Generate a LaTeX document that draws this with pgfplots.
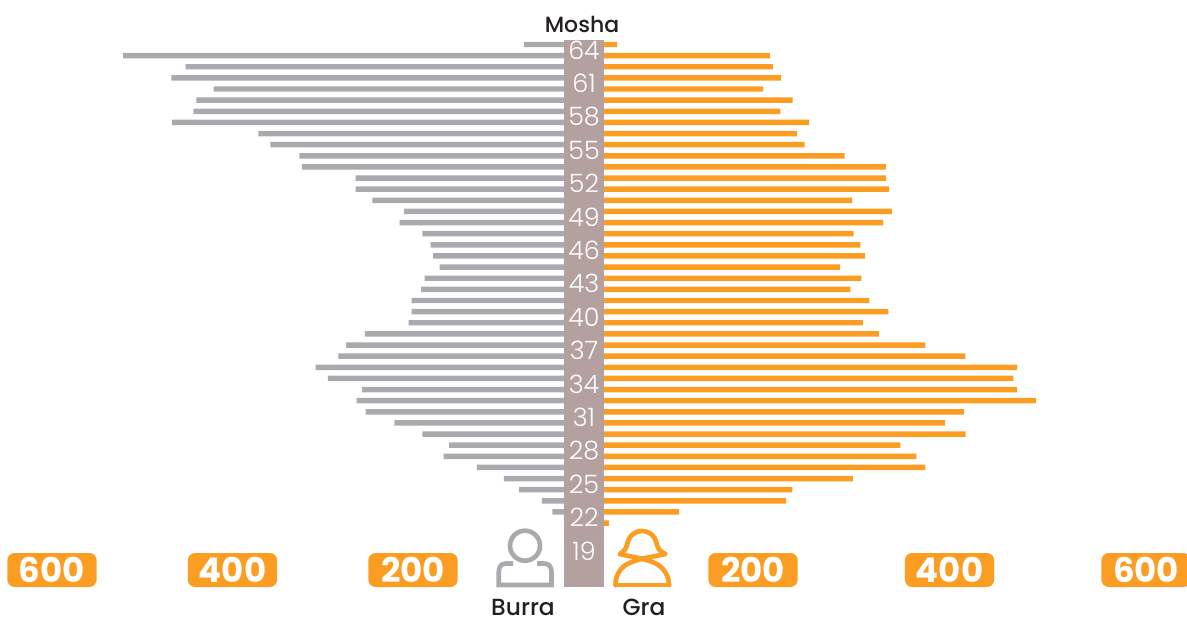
\documentclass[border=0pt]{standalone}
\usepackage{pgfplots}
\usepackage{pgfplotstable}
\usepackage{fontspec}
\pgfplotsset{compat=1.18}
\setmainfont{Poppins}
\newfontfamily\poplight{Poppins Light}
\newfontfamily\popmed{Poppins Medium}
\definecolor{barorange}{HTML}{FC9D23}
\definecolor{bargray}{HTML}{A9AAAD}
\definecolor{band}{HTML}{B3A09F}
\definecolor{ink}{HTML}{231F20}
\pgfplotstableread{
age burra
65 77.0
64 521.3
63 451.9
62 467.8
61 420.8
60 440.1
59 443.4
58 467.0
57 371.4
56 358.1
55 326.0
54 323.0
53 263.5
52 263.5
51 245.1
50 210.0
49 214.7
48 189.7
47 180.4
46 177.8
45 170.4
44 187.0
43 191.1
42 201.4
41 201.4
40 204.8
39 253.2
38 274.2
37 282.8
36 307.8
35 294.2
34 256.5
33 262.4
32 252.4
31 220.7
30 189.7
29 160.1
28 166.0
27 129.1
26 99.2
25 82.5
24 57.1
23 45.7
}\burratable
\pgfplotstableread{
age gra
65 61.6
64 217.3
63 220.1
62 228.5
61 210.2
60 240.4
59 227.8
58 257.0
57 244.8
56 252.6
55 293.3
54 335.1
53 335.4
52 338.4
51 300.8
50 341.2
49 332.3
48 302.5
47 309.2
46 314.0
45 288.5
44 310.2
43 299.0
42 318.4
41 337.7
40 311.7
39 328.2
38 375.4
37 416.1
36 468.7
35 464.9
34 468.7
33 488.0
32 414.8
31 395.4
30 416.5
29 349.9
28 366.2
27 375.4
26 301.5
25 240.0
24 233.6
23 124.7
22 53.4
}\gratable
\pgfplotsset{
  pyr/.style={
    scale only axis,
    height=410.25pt,
    ymin=16.26, ymax=65.404,
    xbar, bar width=4.1pt,
    axis line style={draw=none},
    major tick length=0pt,
    xtick={200,400,600},
    xticklabels={200,400,600},
    xticklabel style={fill=barorange, rounded corners=5.5pt, text=white,
      minimum width=67pt, minimum height=25.5pt, inner sep=0pt, anchor=center,
      font=\fontsize{25.5}{25.5}\selectfont\bfseries, yshift=12.75pt},
  }
}
\begin{document}
\begin{tikzpicture}
\clip (0pt,0pt) rectangle (890.25pt,462.75pt);
\begin{scope}[x=0.75pt,y=-0.75pt,yshift=462.75pt]
\fill[band] (564,40) rectangle (604,587);
\end{scope}
\begin{axis}[pyr, at={(423pt,22.5pt)}, anchor=south east, width=423pt,
  x dir=reverse, xmin=32.7, xmax=657.6,
  axis y line*=right,
  ytick={19,22,25,28,31,34,37,40,43,46,49,52,55,58,61,64},
  yticklabels={19,22,25,28,31,34,37,40,43,46,49,52,55,58,61,64},
  yticklabel style={anchor=center, text=white, xshift=15pt, yshift=4.2pt,
    font=\fontsize{19}{19}\selectfont\poplight},
]
\addplot[fill=bargray, draw=none] table[x=burra, y=age] {\burratable};
\end{axis}
\begin{axis}[pyr, at={(453pt,22.5pt)}, anchor=south west, width=437.25pt,
  xmin=48.35, xmax=641.7,
  ytick=\empty,
]
\addplot[fill=barorange, draw=none] table[x=gra, y=age] {\gratable};
\end{axis}
\begin{scope}[x=0.75pt,y=-0.75pt,yshift=462.75pt]
\begin{scope}[line width=3.5pt, bargray]
\draw (525,545.7) circle (15);
\draw (513,563.5) -- (506,563.5) .. controls (501,563.5) and (498.8,567) .. (498.8,572) -- (498.8,585) -- (551.5,585) -- (551.5,572) .. controls (551.5,567) and (549,563.5) .. (544,563.5) -- (537,563.5);
\end{scope}
\begin{scope}[line width=3.5pt, barorange, line join=round, line cap=round]
\draw (620,554) .. controls (624,551) and (626,549) .. (627,545) .. controls (629,535) and (635,531) .. (642,531) .. controls (649,531) and (655,535) .. (657,545) .. controls (658,549) and (660,551) .. (665,554);
\draw (620,554) .. controls (630,557) and (655,559) .. (663,569) .. controls (667,574) and (669,579) .. (669,585);
\draw (665,554) .. controls (654,557) and (629,559) .. (621,569) .. controls (617,574) and (615.5,579) .. (615.5,585);
\draw (615.5,585) -- (669,585);
\end{scope}
\node[text=ink, inner sep=0pt, font=\fontsize{16.5}{16.5}\selectfont\popmed] at (582,24) {Mosha};
\node[text=ink, inner sep=0pt, font=\fontsize{17.5}{17.5}\selectfont\popmed] at (523,607) {Burra};
\node[text=ink, inner sep=0pt, font=\fontsize{17.5}{17.5}\selectfont\popmed] at (644,607) {Gra};
\end{scope}
\end{tikzpicture}
\end{document}
